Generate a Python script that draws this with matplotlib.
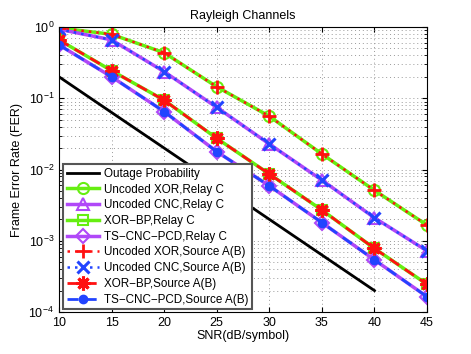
import numpy as np
import matplotlib
matplotlib.use('Agg')
import matplotlib.pyplot as plt

plt.rcParams['font.family'] = ['Liberation Sans', 'DejaVu Sans']

snr = [10, 15, 20, 25, 30, 35, 40, 45]
snr_out = [10, 15, 20, 25, 30, 35, 40]

outage = [0.2, 0.0632, 0.02, 0.00632, 0.002, 0.000632, 0.0002]
unc_xor = [0.97, 0.79, 0.435, 0.145, 0.056, 0.0165, 0.0051, 0.00166]
unc_cnc = [0.93, 0.66, 0.236, 0.0746, 0.0228, 0.0071, 0.0021, 0.00072]
xor_bp = [0.66, 0.244, 0.094, 0.0274, 0.00865, 0.0027, 0.00078, 0.000245]
ts_cnc = [0.56, 0.2, 0.065, 0.0178, 0.0059, 0.0018, 0.00054, 0.000164]

green = '#66ee11'
purple = '#b048f8'
red = '#ff1111'
blue = '#2244ff'

fig = plt.figure(figsize=(4.71, 3.54), dpi=100)
ax = fig.add_axes([0.1253, 0.1186, 0.7813, 0.8051])

ax.semilogy(snr_out, outage, '-', color='black', lw=2, label='Outage Probability')
ax.semilogy(snr, unc_xor, '-o', color=green, lw=2.5, ms=8, mfc='none', mew=1.5,
            label='Uncoded XOR,Relay C')
ax.semilogy(snr, unc_cnc, '-^', color=purple, lw=2.5, ms=9, mfc='none', mew=1.5,
            label='Uncoded CNC,Relay C')
ax.semilogy(snr, xor_bp, '-s', color=green, lw=2.5, ms=7, mfc='none', mew=1.5,
            label='XOR\u2212BP,Relay C')
ax.semilogy(snr, ts_cnc, '-D', color=purple, lw=2.5, ms=7, mfc='none', mew=1.5,
            label='TS\u2212CNC\u2212PCD,Relay C')
ax.semilogy(snr, unc_xor, color=red, ls=(0, (1, 2)), lw=1.8, marker='+', ms=10, mew=2,
            label='Uncoded XOR,Source A(B)')
ax.semilogy(snr, unc_cnc, color=blue, ls=(0, (1, 2)), lw=1.8, marker='x', ms=8, mew=2.2,
            label='Uncoded CNC,Source A(B)')
ax.semilogy(snr, xor_bp, color=red, ls=(0, (4, 2.5)), lw=2, marker=(8, 2, 0), ms=10, mew=2.2,
            label='XOR\u2212BP,Source A(B)')
ax.semilogy(snr, ts_cnc, color=blue, ls=(0, (4, 2.5)), lw=2, marker='o', ms=6, mew=1,
            label='TS\u2212CNC\u2212PCD,Source A(B)')

ax.set_xlim(10, 45)
ax.set_ylim(1e-4, 1)
ax.set_xticks([10, 15, 20, 25, 30, 35, 40, 45])
ax.grid(True, which='major', ls=(0, (1, 3)), color='#999999', lw=0.7)
ax.grid(True, which='minor', axis='y', ls=(0, (1, 3)), color='#999999', lw=0.7)
ax.tick_params(which='both', direction='in', top=True, right=True, labelsize=9)
ax.set_title('Rayleigh Channels', fontsize=9)
ax.set_xlabel('SNR(dB/symbol)', fontsize=9, labelpad=1)
ax.set_ylabel('Frame Error Rate (FER)', fontsize=9)

leg = ax.legend(loc='lower left', bbox_to_anchor=(0.011, 0.01), borderaxespad=0,
                fontsize=8.4, fancybox=False, framealpha=1, edgecolor='#555555',
                handlelength=2.8, labelspacing=0.32, borderpad=0.3, handletextpad=0.45)
leg.get_frame().set_linewidth(1.5)

fig.savefig('out.png', dpi=100)
